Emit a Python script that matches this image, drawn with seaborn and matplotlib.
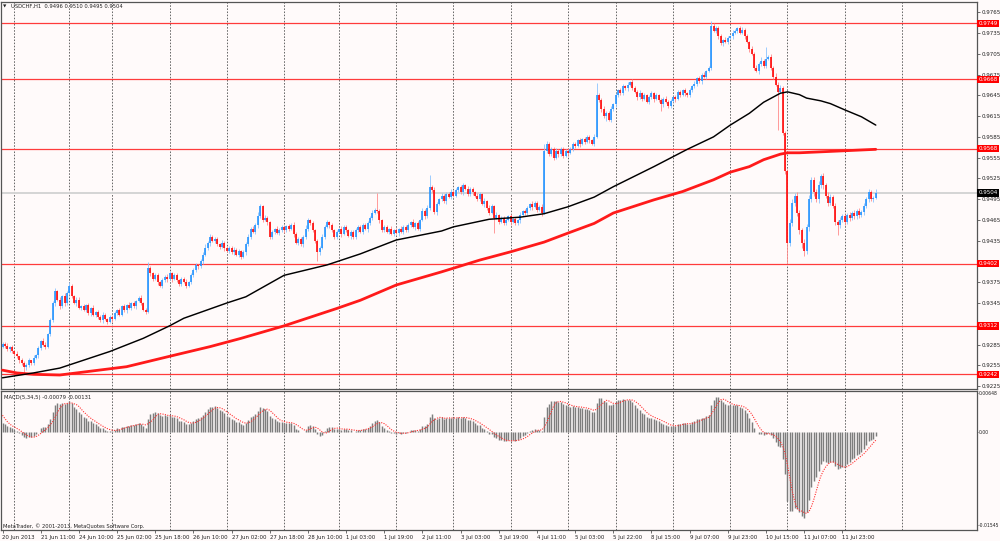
import numpy as np
import pandas as pd
import matplotlib
matplotlib.use("Agg")
import matplotlib.pyplot as plt
import matplotlib.transforms as mtrans
from matplotlib import font_manager as fm
from matplotlib.textpath import TextPath
import seaborn as sns

# ---------------- data ----------------
SYMBOL_TITLE = "USDCHF,H1  0.9496 0.9510 0.9495 0.9504"
MACD_TITLE = "MACD(5,34,5) -0.00079 -0.00131"
COPYRIGHT = "MetaTrader, \u00a9 2001-2013, MetaQuotes Software Corp."

OPEN0_PIPS = 9282
LAST_OPEN_PIPS = 9496
CLOSE_PIPS = [
    9286, 9283, 9278, 9281, 9275, 9272, 9268, 9263, 9258, 9252,
    9256, 9262, 9258, 9266, 9270,
    9280, 9290, 9285, 9282, 9300, 9320, 9345, 9362,
    9350, 9340, 9355, 9345, 9360, 9370, 9355, 9345, 9350, 9338, 9340,
    9335, 9342, 9330, 9338, 9328, 9332, 9325, 9320, 9328, 9322, 9318, 9325, 9322,
    9330, 9335, 9328, 9340, 9335, 9342, 9338, 9345, 9340, 9348, 9352, 9345, 9335, 9332,
    9395, 9388, 9380, 9385, 9375, 9370, 9378, 9383, 9380,
    9388, 9380, 9385, 9378, 9372, 9380, 9376, 9370, 9375, 9385, 9392, 9400, 9398, 9405,
    9415, 9425, 9432, 9440, 9435,
    9438, 9430, 9426, 9432, 9424, 9420,
    9425, 9418, 9422, 9415, 9420, 9412, 9418,
    9430, 9440, 9452, 9448,
    9458, 9470, 9485, 9465, 9468, 9462,
    9440, 9448, 9452, 9446, 9450,
    9455, 9450, 9456, 9452, 9458,
    9445, 9432, 9438, 9430, 9440,
    9452, 9465, 9460, 9450,
    9435, 9418, 9425,
    9440, 9455, 9462,
    9458, 9450, 9440, 9448,
    9452, 9445, 9455, 9450, 9442, 9448, 9440,
    9450, 9455, 9448, 9458, 9452, 9460,
    9468, 9475, 9480, 9478,
    9465, 9450, 9455,
    9448, 9452, 9445, 9450, 9446, 9452, 9448,
    9455, 9450, 9458, 9462, 9455, 9460, 9452,
    9465, 9478, 9470, 9482,
    9512, 9508, 9476, 9488,
    9495, 9500, 9492, 9503, 9498, 9505, 9500,
    9508, 9512, 9505, 9515, 9510, 9502, 9510, 9505,
    9500, 9495, 9502, 9488, 9492, 9482,
    9475, 9485, 9468, 9472,
    9462, 9468, 9460, 9465, 9470, 9462, 9466, 9460, 9465,
    9472, 9478, 9475, 9482, 9488, 9484,
    9490, 9480, 9484, 9475,
    9565,
    9575, 9560, 9568, 9555, 9565, 9560, 9568, 9558, 9565, 9562,
    9568, 9575, 9572, 9580, 9575, 9582, 9578, 9585, 9580, 9575, 9585,
    9645,
    9638, 9625, 9615, 9620, 9610, 9625, 9632,
    9645, 9652, 9648, 9658, 9655, 9660, 9664, 9656,
    9650, 9642, 9648, 9640, 9645, 9636, 9642, 9648, 9640,
    9645, 9638, 9632, 9640, 9636, 9630, 9637, 9642,
    9640, 9650, 9646, 9652, 9648, 9645, 9652, 9658,
    9662, 9670, 9665, 9675, 9672, 9680, 9685,
    9745, 9738,
    9742, 9730, 9720, 9725, 9722, 9728, 9730,
    9735, 9738, 9742, 9735, 9740,
    9730, 9722, 9712, 9705,
    9685, 9680,
    9690, 9695, 9688, 9698, 9700,
    9685, 9672, 9660,
    9650, 9655, 9590,
    9535, 9432,
    9460, 9490, 9500,
    9475, 9450, 9432, 9420,
    9455, 9495, 9522,
    9505, 9495, 9515, 9528,
    9515, 9500, 9490,
    9498, 9485, 9462, 9458,
    9465, 9470, 9462, 9472,
    9468, 9475, 9470, 9478, 9472, 9476,
    9485, 9495, 9505,
    9495, 9496, 9504,
]

# wick lengths in pips above / below the body, one digit per bar
UP_WICK = ("3242323123 2314232432 4352324253 2432323142 3243232413 2324232342 "
           "3932342324 3243232423 4324352432 3242323423 2435343732 4323243232 "
           "3242323532 4232423232 3242323242 3234342432 2324232423 3242324352 "
           "4532423243 3243242324 3242532423 2324232423 3242324543 3243232423 "
           "3242323244 4353242324 3242432423 2432423242 3242324232 4232423753 "
           "3424324323 4232424353 4343545333 6545436465 5464545434 3434343434 3434346")
DN_WICK = ("2324232438 4323243232 3242324343 2423232423 3242324232 2342324232 "
           "3243242324 2423232423 3242323423 2324232423 3242323423 2432423242 "
           "3242324232 2324232423 3242324232 2324232342 3242324232 2324232423 "
           "3242324232 2324232423 3242324232 2324232423 3242324232 2324232423 "
           "3242324232 2437232423 3242324232 2324232423 3242324232 2324232423 "
           "3242324232 2324232423 3243242334 5454587464 5464545434 5434343434 3434341")
HIGH_AT = {157: 9504, 179: 9530, 227: 9575, 249: 9663, 320: 9715, 366: 9510}
LOW_AT = {132: 9405, 206: 9446, 276: 9622, 325: 9595, 329: 9403, 350: 9443, 366: 9495}

# moving averages (bar index, price in pips)
SMA100_BARS = [0, 13, 24, 45, 59, 70, 76, 94, 102, 118, 136, 150, 165, 184, 189, 204, 217,
               227, 237, 248, 256, 273, 287, 298, 305, 313, 319, 326, 329, 334, 337, 343,
               347, 353, 360, 366]
SMA100_PIPS = [9237, 9244, 9251, 9275, 9294, 9312, 9323, 9345, 9354, 9385, 9400, 9416, 9436,
               9449, 9455, 9466, 9469, 9474, 9484, 9498, 9513, 9542, 9567, 9585, 9602, 9619,
               9635, 9648, 9650, 9646, 9641, 9637, 9633, 9624, 9614, 9602]
SMA200_BARS = [0, 6, 13, 24, 52, 70, 87, 100, 118, 140, 150, 165, 184, 200, 213, 227, 237,
               248, 256, 273, 285, 298, 305, 313, 319, 326, 329, 334, 347, 366]
SMA200_PIPS = [9248, 9244, 9242, 9241, 9253, 9268, 9282, 9294, 9312, 9337, 9349, 9371, 9390,
               9407, 9419, 9433, 9446, 9460, 9475, 9494, 9506, 9523, 9534, 9542, 9552, 9560,
               9562, 9562, 9564, 9567]

MACD_FAST, MACD_SLOW, MACD_SIG = 5, 34, 5
MACD_START = 0.0015
MACD_PRE = [0.0040, 0.0035, 0.0028, 0.0022]

LEVELS = [0.9749, 0.9668, 0.9568, 0.9402, 0.9312, 0.9242]
BID = 0.9504
PRICE_TICKS = [0.9765, 0.9735, 0.9705, 0.9675, 0.9645, 0.9615, 0.9585, 0.9555, 0.9525,
               0.9495, 0.9465, 0.9435, 0.9375, 0.9345, 0.9285, 0.9255, 0.9225]
MACD_TICKS = [0.00648, 0.0, -0.01545]
MACD_TICK_LABELS = ["0.00648", "0.00", "-0.01545"]

TIME_LABELS = ["20 Jun 2013", "21 Jun 11:00", "24 Jun 10:00", "25 Jun 02:00", "25 Jun 18:00",
               "26 Jun 10:00", "27 Jun 02:00", "27 Jun 18:00", "28 Jun 10:00", "1 Jul 03:00",
               "1 Jul 19:00", "2 Jul 11:00", "3 Jul 03:00", "3 Jul 19:00", "4 Jul 11:00",
               "5 Jul 03:00", "5 Jul 22:00", "8 Jul 15:00", "9 Jul 07:00", "9 Jul 23:00",
               "10 Jul 15:00", "11 Jul 07:00", "11 Jul 23:00"]
TIME_LABEL_BARS = [16 * k for k in range(len(TIME_LABELS))]
DAY_START_BARS = [5, 28, 46, 70, 94, 118, 141, 165, 189, 213, 237, 257, 281, 305, 329, 353, 377]

# ---------------- derived series ----------------
close = np.array(CLOSE_PIPS, dtype=float) / 1e4
n = len(close)
opn = np.r_[OPEN0_PIPS / 1e4, close[:-1]]
opn[-1] = LAST_OPEN_PIPS / 1e4
upw = np.array([int(c) for c in UP_WICK.replace(" ", "")][:n], dtype=float) / 1e4
dnw = np.array([int(c) for c in DN_WICK.replace(" ", "")][:n], dtype=float) / 1e4
body_hi = np.maximum(opn, close)
body_lo = np.minimum(opn, close)
high = body_hi + upw
low = body_lo - dnw
for k, v in HIGH_AT.items():
    if k < n:
        high[k] = v / 1e4
for k, v in LOW_AT.items():
    if k < n:
        low[k] = v / 1e4
bars = np.arange(n)


def ema(vals, span, init):
    a = 2.0 / (span + 1)
    e = init
    out = []
    for v in vals:
        e = e + a * (v - e)
        out.append(e)
    return np.array(out)


ema_fast = ema(close, MACD_FAST, close[0])
ema_slow = ema(close, MACD_SLOW, close[0] - MACD_START)
macd = ema_fast - ema_slow
signal = pd.Series(np.r_[MACD_PRE, macd]).rolling(MACD_SIG).mean().to_numpy()[len(MACD_PRE):]

# ---------------- style ----------------
sns.set_theme(style="white")
plt.rcParams["font.family"] = ["Liberation Sans", "DejaVu Sans"]


def pick_font():
    for f in fm.fontManager.ttflist:
        st = str(f.stretch).lower()
        nm = f.name
        if f.style != "normal" or str(f.weight).lower() not in ("400", "normal", "regular", "book"):
            continue
        if "Narrow" in nm or "Condensed" in nm or st in ("condensed", "semi-condensed"):
            return fm.FontProperties(fname=f.fname)
    return fm.FontProperties(family="Liberation Sans")


FP = pick_font()


def size_for(text, target_px, max_pt=5.6):
    w = TextPath((0, 0), text, size=10, prop=FP).get_extents().width * 100 / 72.0
    return min(max_pt, 10.0 * target_px / max(w, 1e-6))


FS_Y = size_for("0.9765", 18.5)
FS_MY = size_for("-0.01545", 20.0)
FS_X = size_for("21 Jun 11:00", 33.5)
FS_T = size_for(SYMBOL_TITLE, 110)
FS_M = size_for(MACD_TITLE, 86)
FS_C = size_for(COPYRIGHT, 140)

BG = "#fffafa"
BULL, BEAR = "#1e90ff", "#ff0000"
BULL_W, BEAR_W = "#8cc4ff", "#ff8a8a"
SPINE = "#555555"
TXT = "#222222"

fig = plt.figure(figsize=(10.0, 5.41), dpi=100, facecolor=BG)
W, H = 1000.0, 541.0
ax = fig.add_axes([1 / W, 1 - 389 / H, 976 / W, 387 / H], facecolor=BG)
axm = fig.add_axes([1 / W, 1 - 530 / H, 976 / W, 139 / H], facecolor=BG)

px_per_bar = 2.386
x0_px = 2.5
xlim = ((1 - x0_px) / px_per_bar, (977 - x0_px) / px_per_bar)

for a in (ax, axm):
    a.set_xlim(*xlim)
    for s in a.spines.values():
        s.set_color(SPINE)
        s.set_linewidth(0.9)
    for b in DAY_START_BARS:
        a.axvline(b, color="#666666", lw=0.7, ls=(0, (1.6, 1.6)), zorder=1)

# price panel
ax.set_ylim(0.92208, 0.97798)
for lv in LEVELS:
    ax.axhline(lv, color="#ff3b3b", lw=0.9, zorder=2)
ax.axhline(BID, color="#d4d4d4", lw=1.4, zorder=1.5)

bull = close >= opn
ax.vlines(bars[bull], low[bull], high[bull], colors=BULL_W, lw=0.6, zorder=3)
ax.vlines(bars[~bull], low[~bull], high[~bull], colors=BEAR_W, lw=0.6, zorder=3)
bh = np.where(body_hi - body_lo < 0.00005, body_lo + 0.00005, body_hi)
ax.vlines(bars[bull], body_lo[bull], bh[bull], colors=BULL, lw=1.15, zorder=4)
ax.vlines(bars[~bull], body_lo[~bull], bh[~bull], colors=BEAR, lw=1.15, zorder=4)

sns.lineplot(x=SMA200_BARS, y=np.array(SMA200_PIPS) / 1e4, ax=ax, color="#ff1a1a", lw=2.0,
             estimator=None, sort=False, zorder=5)
sns.lineplot(x=SMA100_BARS, y=np.array(SMA100_PIPS) / 1e4, ax=ax, color="black", lw=1.05,
             estimator=None, sort=False, zorder=6)

ax.set_xticks([])
ax.set_xlabel("")
ax.set_ylabel("")
ax.yaxis.tick_right()
ax.set_yticks(PRICE_TICKS)
ax.set_yticklabels([f"{t:.4f}" for t in PRICE_TICKS], fontproperties=FP)
ax.tick_params(axis="y", which="both", right=True, left=False, length=2, width=0.6,
               color=SPINE, labelsize=FS_Y, pad=1.0, labelcolor=TXT)

trans = mtrans.blended_transform_factory(ax.transAxes, ax.transData)
for lv, fc in [(v, "#ff0000") for v in LEVELS] + [(BID, "#000000")]:
    t = ax.text(1.0012, lv, f"{lv:.4f}", transform=trans, ha="left", va="center",
                color="white", clip_on=False, zorder=10, fontproperties=FP,
                bbox=dict(boxstyle="square,pad=0.2", fc=fc, ec="none"))
    t.set_fontsize(FS_Y)

# MACD panel
axm.set_ylim(-0.01628, 0.00681)
axm.vlines(bars, 0, macd, colors="#7d7d7d", lw=1.05, zorder=3)
sns.lineplot(x=bars, y=signal, ax=axm, color="#ff3030", lw=0.8, ls=(0, (1, 1.2)),
             estimator=None, sort=False, zorder=4)
axm.set_xlabel("")
axm.set_ylabel("")
axm.yaxis.tick_right()
axm.set_yticks(MACD_TICKS)
axm.set_yticklabels(MACD_TICK_LABELS, fontproperties=FP)
axm.tick_params(axis="y", right=True, left=False, length=1.0, width=0.6, color=SPINE,
                labelsize=FS_MY, pad=0.6, labelcolor=TXT)
axm.set_xticks(TIME_LABEL_BARS)
axm.set_xticklabels(TIME_LABELS, fontproperties=FP)
for lbl in axm.get_xticklabels():
    lbl.set_horizontalalignment("left")
axm.tick_params(axis="x", bottom=True, length=2, width=0.6, color=SPINE, labelsize=FS_X,
                pad=1.5, labelcolor=TXT)

# texts
fig.text(3 / W, 1 - 6.5 / H, "\u25bc", fontsize=3.2, color=TXT, va="center",
         family=["DejaVu Sans"])
t1 = fig.text(11 / W, 1 - 6.5 / H, SYMBOL_TITLE, color=TXT, va="center", fontproperties=FP)
t1.set_fontsize(FS_T)
t2 = fig.text(4 / W, 1 - 397 / H, MACD_TITLE, color=TXT, va="center", fontproperties=FP)
t2.set_fontsize(FS_M)
t3 = fig.text(3 / W, 1 - 526 / H, COPYRIGHT, color=TXT, va="center", fontproperties=FP)
t3.set_fontsize(FS_C)

fig.savefig("out.png", dpi=100, facecolor=BG)
